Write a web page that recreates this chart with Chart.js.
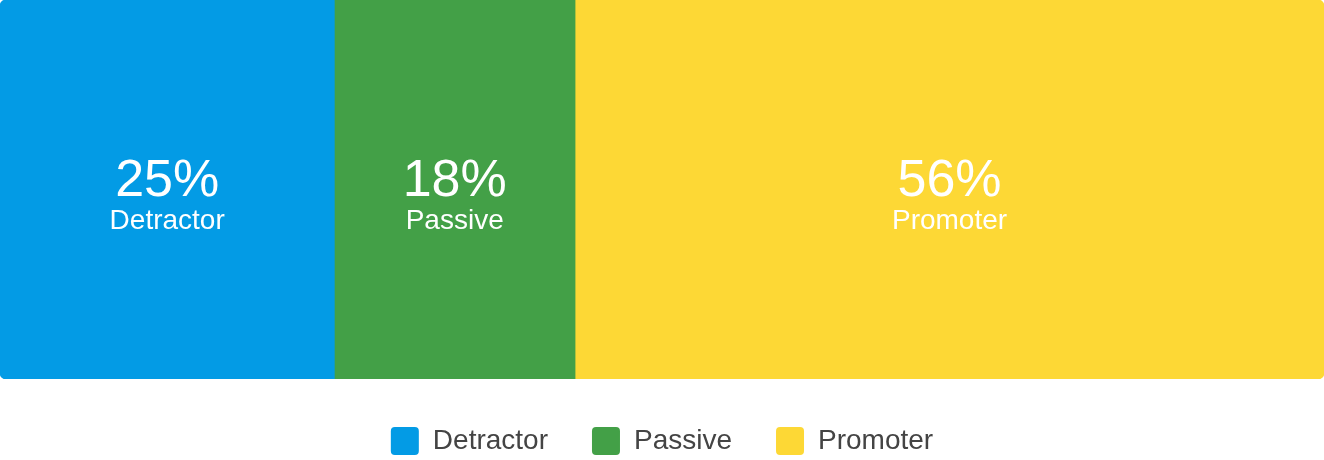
<!DOCTYPE html>
<html>
<head>
<meta charset="utf-8">
<script src="https://cdn.jsdelivr.net/npm/chart.js@4.4.1/dist/chart.umd.min.js"></script>
<style>
    html, body { margin: 0; padding: 0; background: #fff; overflow: hidden; }
    #box { width: 1324px; height: 465px; }
</style>
</head>
<body>
<div id="box"><canvas id="npsChart"></canvas></div>
<script>
// NPS breakdown
const groups = ['Detractor', 'Passive', 'Promoter'];
const shares = [25, 18, 56];
const colors = ['#039BE5', '#43A047', '#FDD835'];
const total = shares.reduce((a, b) => a + b, 0);

// percentage + name written in the middle of each segment
const segmentLabels = {
    id: 'segmentLabels',
    afterDatasetsDraw: function (chart) {
        const ctx = chart.ctx;
        ctx.save();
        ctx.fillStyle = '#ffffff';
        ctx.textAlign = 'center';
        ctx.textBaseline = 'alphabetic';
        chart.data.datasets.forEach(function (ds, i) {
            const bar = chart.getDatasetMeta(i).data[0];
            const cx = (bar.x + bar.base) / 2;
            ctx.font = '52px "Liberation Sans", Arial, sans-serif';
            ctx.fillText(ds.data[0] + '%', cx, bar.y + 6);
            ctx.font = '28px "Liberation Sans", Arial, sans-serif';
            ctx.fillText(ds.label, cx, bar.y + 39);
        });
        ctx.restore();
    }
};

const radius = [
    { topLeft: 6, bottomLeft: 6, topRight: 0, bottomRight: 0 },
    0,
    { topLeft: 0, bottomLeft: 0, topRight: 6, bottomRight: 6 }
];

const ctx = document.getElementById('npsChart').getContext('2d');
new Chart(ctx, {
    type: 'bar',
    data: {
        labels: [''],
        datasets: groups.map(function (g, i) {
            return {
                label: g,
                data: [shares[i]],
                backgroundColor: colors[i],
                borderWidth: 0,
                borderSkipped: false,
                borderRadius: radius[i],
                barPercentage: 1,
                categoryPercentage: 1
            };
        })
    },
    options: {
        indexAxis: 'y',
        responsive: true,
        maintainAspectRatio: false,
        animation: false,
        layout: { padding: 0 },
        scales: {
            x: {
                stacked: true,
                min: 0,
                max: total,
                grid: { display: false },
                border: { display: false },
                ticks: { display: false },
                afterFit: function (scale) { scale.height = 4; }
            },
            y: {
                stacked: true,
                display: false
            }
        },
        plugins: {
            tooltip: { enabled: false },
            legend: {
                position: 'bottom',
                labels: {
                    boxWidth: 28,
                    boxHeight: 28,
                    useBorderRadius: true,
                    borderRadius: 4,
                    padding: 44,
                    color: '#444',
                    font: { family: '"Liberation Sans", Arial, sans-serif', size: 28 }
                }
            }
        }
    },
    plugins: [segmentLabels]
});
</script>
</body>
</html>
